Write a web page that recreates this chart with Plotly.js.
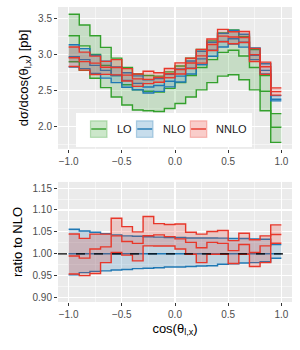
<!DOCTYPE html>
<html><head><meta charset="utf-8">
<script src="https://cdn.plot.ly/plotly-3.0.1.min.js"></script>
<style>html,body{margin:0;padding:0;background:#fff}#plot{width:300px;height:350px}</style>
</head><body><div id="plot"></div>
<script>
const binEdges = [-1.0,-0.9,-0.8,-0.7,-0.6,-0.5,-0.4,-0.3,-0.2,-0.1,0.0,0.1,0.2,0.3,0.4,0.5,0.6,0.7,0.8,0.9,1.0];

const loCentral = [3.26,3.12,3.00,2.85,2.71,2.58,2.51,2.49,2.48,2.53,2.61,2.71,2.82,2.93,3.03,3.06,2.98,2.82,2.49,1.99];
const loUpper   = [3.56,3.41,3.26,3.10,2.95,2.82,2.73,2.71,2.70,2.76,2.84,2.95,3.07,3.19,3.30,3.34,3.25,3.07,2.71,2.18];
const loLower   = [2.90,2.78,2.67,2.54,2.41,2.30,2.23,2.22,2.21,2.25,2.32,2.41,2.51,2.61,2.70,2.72,2.65,2.51,2.22,1.78];

const nloCentral = [2.970,2.930,2.850,2.780,2.710,2.640,2.600,2.550,2.570,2.630,2.700,2.810,2.940,3.060,3.180,3.220,3.170,2.990,2.780,2.380];
const nloUpper   = [3.136,3.082,2.990,2.908,2.827,2.748,2.704,2.649,2.668,2.727,2.800,2.911,3.046,3.170,3.294,3.333,3.281,3.092,2.872,2.430];
const nloLower   = [2.827,2.804,2.736,2.672,2.610,2.545,2.512,2.466,2.488,2.551,2.619,2.729,2.858,2.977,3.104,3.146,3.103,2.930,2.730,2.356];

const nnloCentral = [2.955,2.901,2.881,2.824,2.821,2.714,2.662,2.655,2.681,2.733,2.792,2.883,2.981,3.140,3.256,3.243,3.237,2.999,2.830,2.485];
const nnloUpper   = [3.104,3.033,2.978,2.905,2.930,2.804,2.730,2.767,2.747,2.806,2.884,2.948,3.072,3.216,3.349,3.317,3.319,3.086,2.894,2.537];
const nnloLower   = [2.833,2.784,2.722,2.724,2.718,2.632,2.558,2.596,2.616,2.677,2.730,2.807,2.881,3.057,3.177,3.149,3.167,2.903,2.724,2.437];

const xTicks = [-1.0,-0.5,0.0,0.5,1.0];
const seriesNames = ['LO','NLO','NNLO'];

const colors = {LO:'#33a02c', NLO:'#1f78b4', NNLO:'#e8372a'};
const fills  = {LO:'rgba(51,160,44,0.2)', NLO:'rgba(31,120,180,0.2)', NNLO:'rgba(232,55,42,0.2)'};
const keyFills  = {LO:'rgba(51,160,44,0.25)', NLO:'rgba(31,120,180,0.25)', NNLO:'rgba(232,55,42,0.25)'};
const keyBorders = {LO:'rgba(51,160,44,0.3)', NLO:'rgba(31,120,180,0.3)', NNLO:'rgba(232,55,42,0.3)'};

function stepY(v){ return v.concat([v[v.length-1]]); }
function ratio(a,b){ return a.map((v,i)=>v/b[i]); }

const traces = [];
function addSeries(name, lower, upper, central, xa, ya){
  const c = colors[name];
  traces.push({x:binEdges, y:stepY(lower), xaxis:xa, yaxis:ya, type:'scatter', mode:'lines',
    line:{shape:'hv', color:c, width:1.4}, showlegend:false, hoverinfo:'skip'});
  traces.push({x:binEdges, y:stepY(upper), xaxis:xa, yaxis:ya, type:'scatter', mode:'lines',
    line:{shape:'hv', color:c, width:1.4}, fill:'tonexty', fillcolor:fills[name],
    name:name, showlegend:false, hoverinfo:'skip'});
  traces.push({x:binEdges, y:stepY(central), xaxis:xa, yaxis:ya, type:'scatter', mode:'lines',
    line:{shape:'hv', color:c, width:1.4}, showlegend:false, hoverinfo:'skip'});
}
addSeries('LO', loLower, loUpper, loCentral, 'x2', 'y2');
addSeries('NLO', nloLower, nloUpper, nloCentral, 'x2', 'y2');
addSeries('NNLO', nnloLower, nnloUpper, nnloCentral, 'x2', 'y2');
addSeries('NLO', ratio(nloLower,nloCentral), ratio(nloUpper,nloCentral), ratio(nloCentral,nloCentral), 'x', 'y');
addSeries('NNLO', ratio(nnloLower,nloCentral), ratio(nnloUpper,nloCentral), ratio(nnloCentral,nloCentral), 'x', 'y');

const W = 300, H = 350, M = {l:58, r:8, t:7, b:48};
const pw = W - M.l - M.r, ph = H - M.t - M.b;
const px = v => (v - M.l) / pw;          // pixel x -> paper
const py = v => (H - M.b - v) / ph;      // pixel y -> paper

const tickFont = {family:'Liberation Sans, Arial, sans-serif', size:10, color:'#4d4d4d'};
const titleFont = {family:'Liberation Sans, Arial, sans-serif', size:13, color:'#000'};
const common = {
  ticks:'outside', ticklen:3, tickwidth:1, tickcolor:'#333', tickfont:tickFont,
  showgrid:true, gridcolor:'#ffffff', gridwidth:1.1, zeroline:false, showline:false,
  minor:{showgrid:true, gridcolor:'#ffffff', gridwidth:0.5, ticks:''}
};

// legend drawn as decoration (ggplot style keys)
const shapes = [{type:'line', xref:'x domain', yref:'y', x0:0, x1:1, y0:1, y1:1, line:{color:'#000', width:1.3, dash:'dash'}, layer:'above'}];
const annotations = [];
shapes.push({type:'rect', xref:'paper', yref:'paper', x0:px(76), x1:px(252), y0:py(147), y1:py(113),
  fillcolor:'#ffffff', line:{width:0}, layer:'above'});
const keyX = [90.5, 136.5, 190.3];
const txtX = [114.5, 160.5, 213.5];
seriesNames.forEach((n,i)=>{
  shapes.push({type:'rect', xref:'paper', yref:'paper', x0:px(keyX[i]), x1:px(keyX[i]+16.5), y0:py(137.3), y1:py(120.8),
    fillcolor:keyFills[n], line:{color:keyBorders[n], width:1.2}, layer:'above'});
  shapes.push({type:'line', xref:'paper', yref:'paper', x0:px(keyX[i]+0.8), x1:px(keyX[i]+15.7), y0:py(129), y1:py(129),
    line:{color:colors[n], width:1.4}, layer:'above'});
  annotations.push({xref:'paper', yref:'paper', x:px(txtX[i]), y:py(129), xanchor:'left', yanchor:'middle',
    text:n, showarrow:false, font:{family:'Liberation Sans, Arial, sans-serif', size:11, color:'#1a1a1a'}});
});

const layout = {
  width:W, height:H,
  margin:M,
  paper_bgcolor:'#ffffff', plot_bgcolor:'#EBEBEB',
  font:{family:'Liberation Sans, Arial, sans-serif'},
  xaxis:Object.assign({}, common, {anchor:'y', domain:[0,1], range:[-1.1,1.1], tickvals:xTicks, tickformat:'.1f',
    minor:Object.assign({}, common.minor, {dtick:0.25, tick0:-0.75}),
    title:{text:'cos(θ<sub>l,x</sub>)', font:titleFont, standoff:4}}),
  xaxis2:Object.assign({}, common, {anchor:'y2', domain:[0,1], range:[-1.1,1.1], tickvals:xTicks, tickformat:'.1f',
    minor:Object.assign({}, common.minor, {dtick:0.25, tick0:-0.75}), matches:'x'}),
  yaxis:Object.assign({}, common, {anchor:'x', domain:[0,0.407], range:[0.89,1.164], dtick:0.05, tick0:0.9, tickformat:'.2f',
    minor:Object.assign({}, common.minor, {dtick:0.025, tick0:0.875}),
    title:{text:'ratio to NLO', font:titleFont, standoff:6}}),
  yaxis2:Object.assign({}, common, {anchor:'x2', domain:[0.519,1], range:[1.69,3.66], dtick:0.5, tick0:2.0, tickformat:'.1f',
    minor:Object.assign({}, common.minor, {dtick:0.25, tick0:1.75}),
    title:{text:'dσ/dcos(θ<sub>l,x</sub>) [pb]', font:titleFont, standoff:6}}),
  shapes:shapes,
  annotations:annotations,
  showlegend:false
};

Plotly.newPlot('plot', traces, layout, {staticPlot:true, displayModeBar:false});
</script></body></html>
